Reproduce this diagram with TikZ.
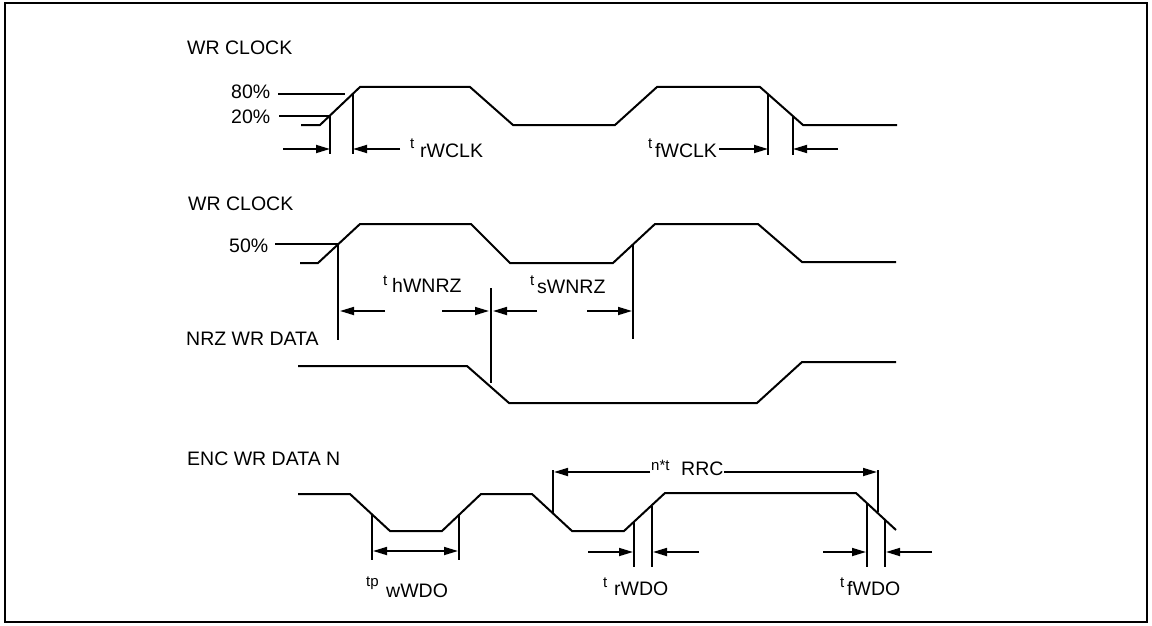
\documentclass[tikz,border=0pt]{standalone}
\usepackage{fontspec}
\setmainfont{Liberation Sans}
\usetikzlibrary{arrows.meta}
\tikzset{
  wave/.style={line width=2pt, line join=miter},
  guide/.style={line width=1.7pt},
  dimarrow/.style={line width=1.7pt, -{Triangle[length=14pt,width=8pt]}},
  dimboth/.style={line width=1.7pt, {Triangle[length=14pt,width=8pt]}-{Triangle[length=14pt,width=8pt]}},
  lbl/.style={inner sep=0pt, anchor=base west, font=\fontsize{19.5}{21}\selectfont},
  sml/.style={inner sep=0pt, anchor=base west, font=\fontsize{15}{16}\selectfont}
}
\begin{document}
\begin{tikzpicture}[x=1pt,y=-1pt]
\useasboundingbox (0,0) rectangle (1152,626);
\draw[line width=2.6pt] (5,3) rectangle (1147,622);

% ---------- WR CLOCK (rise/fall) ----------
\node[lbl] (l1) at (187,55) {WR CLOCK};
\node[lbl] (p80) at (231,99) {80\%};
\node[lbl] (p20) at (231,123) {20\%};
\draw[guide] (278,94) -- (345,94);
\draw[guide] (279,116) -- (330,116);
\draw[wave] (301,125) -- (320,125) -- (360,87) -- (470,87) -- (513,125) -- (615,125)
  -- (657,87) -- (760,87) -- (803,125) -- (897,125);
\coordinate (a1) at (330,154); \coordinate (a2) at (353,154);
\coordinate (a3) at (768,155); \coordinate (a4) at (793,155);
\draw[guide] (330,116) -- (a1);
\draw[guide] (353,94) -- (a2);
\draw[guide] (768,94) -- (a3);
\draw[guide] (793,116) -- (a4);
\draw[dimarrow] (283,149) -- (a1 |- 0,149);
\draw[dimarrow] (400,149) -- (a2 |- 0,149);
\node[sml] (trw) at (410,148) {t};
\node[lbl] (trwm) at (420,157) {rWCLK};
\node[sml] (tfw) at (648,148) {t};
\node[lbl] (tfwm) at (655,157) {fWCLK};
\draw[dimarrow] (719,149) -- (a3 |- 0,149);
\draw[dimarrow] (838,149) -- (a4 |- 0,149);

% ---------- WR CLOCK (50%) ----------
\node[lbl] (l2) at (188,210) {WR CLOCK};
\node[lbl] (p50) at (229,252) {50\%};
\draw[guide] (275,244) -- (338,244);
\draw[wave] (300,263) -- (318,263) -- (360,224) -- (471,224) -- (510,263) -- (613,263)
  -- (655,224) -- (758,224) -- (802,262) -- (896,262);
\coordinate (b1) at (338,340); \coordinate (b2) at (491,383); \coordinate (b3) at (633,339);
\draw[guide] (338,244) -- (b1);
\draw[guide] (491,288) -- (b2);
\draw[guide] (633,244) -- (b3);
\draw[dimarrow] (385,311) -- (340,311);
\draw[dimarrow] (442,311) -- (489,311);
\draw[dimarrow] (537,311) -- (493,311);
\draw[dimarrow] (587,311) -- (632,311);
\node[sml] (th) at (383,285) {t};
\node[lbl] (thm) at (392,292) {hWNRZ};
\node[sml] (ts) at (530,285) {t};
\node[lbl] (tsm) at (537,293) {sWNRZ};

% ---------- NRZ WR DATA ----------
\node[lbl] (l3) at (186,345) {NRZ WR DATA};
\draw[wave] (298,366) -- (467,366) -- (509,403) -- (757,403) -- (802,362) -- (896,362);

% ---------- ENC WR DATA N ----------
\node[lbl] (l4) at (187,465) {ENC WR DATA N};
\draw[wave] (298,494) -- (350,494) -- (390,531) -- (442,531) -- (481,494) -- (532,494)
  -- (572,531) -- (624,531) -- (665,493) -- (856,493) -- (896,530);
\coordinate (c1) at (372,560); \coordinate (c2) at (459,560);
\draw[guide] (372,514) -- (c1);
\draw[guide] (459,515) -- (c2);
\draw[dimboth] (373,551) -- (458,551);
\node[sml] (tp) at (366,586) {tp};
\node[lbl] (tpm) at (386,597) {wWDO};

\coordinate (d1) at (553,470); \coordinate (d2) at (878,470);
\draw[guide] (d1) -- (553,513);
\draw[guide] (d2) -- (878,512);
\node[sml] (nt) at (651,470) {n*t};
\node[lbl] (ntm) at (681,475) {RRC};
\draw[dimarrow] (650,472) -- (554,472);
\draw[dimarrow] (724,472) -- (877,472);

\coordinate (e1) at (634,567); \coordinate (e2) at (652,567);
\draw[guide] (634,522) -- (e1);
\draw[guide] (652,506) -- (e2);
\draw[dimarrow] (588,552) -- (633,552);
\draw[dimarrow] (699,552) -- (653,552);
\node[sml] (tr) at (603,587) {t};
\node[lbl] (trm) at (614,595) {rWDO};

\coordinate (f1) at (867,567); \coordinate (f2) at (885,567);
\draw[guide] (867,503) -- (f1);
\draw[guide] (885,520) -- (f2);
\draw[dimarrow] (823,552) -- (866,552);
\draw[dimarrow] (932,552) -- (886,552);
\node[sml] (tf) at (840,587) {t};
\node[lbl] (tfm) at (847,595) {fWDO};
\end{tikzpicture}
\end{document}
